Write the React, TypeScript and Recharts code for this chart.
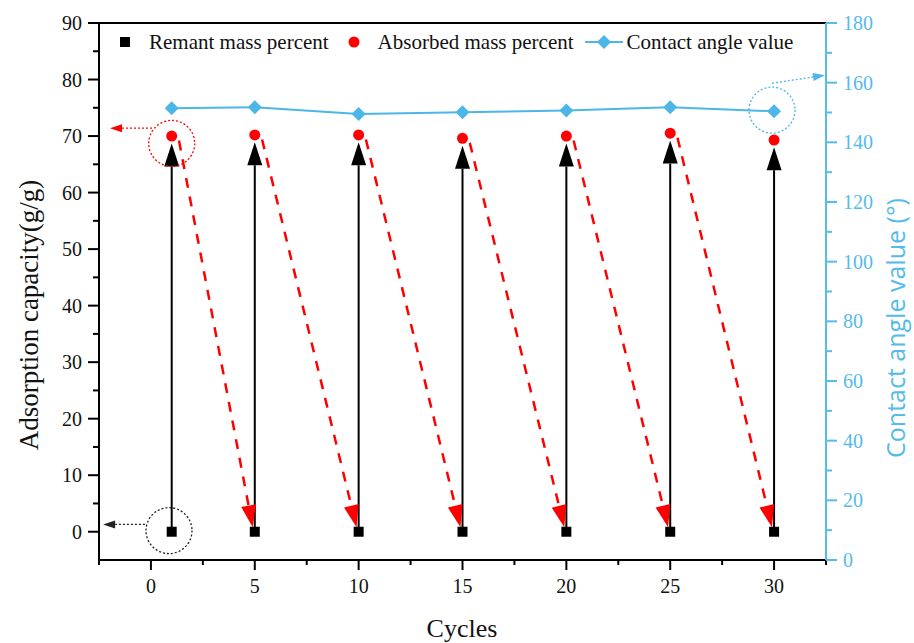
import React from "react";
import { ComposedChart, Line, Scatter, XAxis, YAxis, ReferenceLine, ReferenceDot, Legend } from "recharts";

const cycles = [1, 5, 10, 15, 20, 25, 30];
const remnantMass = [0, 0, 0, 0, 0, 0, 0];
const absorbedMass = [70.0, 70.2, 70.2, 69.6, 70.0, 70.5, 69.3];
const contactAngle = [151.4, 151.8, 149.5, 150.1, 150.7, 151.8, 150.4];

const xTicks = [-2.5, 0, 2.5, 5, 7.5, 10, 12.5, 15, 17.5, 20, 22.5, 25, 27.5, 30, 32.5];
const leftTicks = [0, 5, 10, 15, 20, 25, 30, 35, 40, 45, 50, 55, 60, 65, 70, 75, 80, 85, 90];
const rightTicks = [0, 10, 20, 30, 40, 50, 60, 70, 80, 90, 100, 110, 120, 130, 140, 150, 160, 170, 180];

const rows = cycles.map((c, i) => ({
  cycle: c,
  remnant: remnantMass[i],
  absorbed: absorbedMass[i],
  angle: contactAngle[i],
}));

const BLUE = "#4DB6E9";
const AXIS_BLUE = "#55BBEA";
const SERIF = "'Liberation Serif', 'Times New Roman', serif";

function arrowShape(color: string, width: number, headLen: number, headW: number, dash?: string) {
  return (p: any) => {
    const { x1, y1, x2, y2 } = p;
    const dx = x2 - x1;
    const dy = y2 - y1;
    const len = Math.hypot(dx, dy) || 1;
    const ux = dx / len;
    const uy = dy / len;
    const bx = x2 - ux * headLen;
    const by = y2 - uy * headLen;
    const px = (-uy * headW) / 2;
    const py = (ux * headW) / 2;
    return (
      <g>
        <line x1={x1} y1={y1} x2={bx} y2={by} stroke={color} strokeWidth={width} strokeDasharray={dash} />
        <polygon points={`${x2},${y2} ${bx + px},${by + py} ${bx - px},${by - py}`} fill={color} />
      </g>
    );
  };
}

const blackArrow = arrowShape("#000", 2, 23, 15);
const redArrow = arrowShape("#FF0000", 2.5, 22, 15, "10 9");
const redPointer = arrowShape("#FF0000", 1.3, 12, 8, "2 2");
const blackPointer = arrowShape("#222", 1.3, 12, 8, "2 2");
const bluePointer = arrowShape(BLUE, 1.3, 12, 8, "2 2");

const LeftTick = (p: any) => {
  const v = p.payload.value;
  const major = v % 10 === 0;
  return (
    <g>
      <line x1={p.x} x2={p.x - (major ? 11 : 6)} y1={p.y} y2={p.y} stroke="#000" strokeWidth={2} />
      {major && (
        <text x={p.x - 17} y={p.y} dy="0.35em" textAnchor="end" fontFamily={SERIF} fontSize={20} fill="#111">
          {v}
        </text>
      )}
    </g>
  );
};

const RightTick = (p: any) => {
  const v = p.payload.value;
  const major = v % 20 === 0;
  return (
    <g>
      <line x1={p.x} x2={p.x + (major ? 11 : 6)} y1={p.y} y2={p.y} stroke={AXIS_BLUE} strokeWidth={2} />
      {major && (
        <text x={p.x + 17} y={p.y} dy="0.35em" textAnchor="start" fontFamily={SERIF} fontSize={20} fill={AXIS_BLUE}>
          {v}
        </text>
      )}
    </g>
  );
};

const BottomTick = (p: any) => {
  const v = p.payload.value;
  const major = v % 5 === 0;
  return (
    <g>
      <line x1={p.x} x2={p.x} y1={p.y} y2={p.y + (major ? 10 : 5)} stroke="#000" strokeWidth={2} />
      {major && (
        <text x={p.x} y={p.y + 33} textAnchor="middle" fontFamily={SERIF} fontSize={20} fill="#111">
          {v}
        </text>
      )}
    </g>
  );
};

const Diamond = (p: any) => {
  const { cx, cy } = p;
  if (cx == null || cy == null) return <g key={p.index} />;
  const s = 7;
  return (
    <polygon
      key={p.index}
      points={`${cx},${cy - s} ${cx + s},${cy} ${cx},${cy + s} ${cx - s},${cy}`}
      fill={BLUE}
    />
  );
};

const LegendBox = () => (
  <div
    style={{
      display: "flex",
      alignItems: "center",
      fontFamily: SERIF,
      fontSize: 21,
      color: "#111",
      whiteSpace: "nowrap",
      lineHeight: "24px",
    }}
  >
    <svg width={24} height={24}>
      <rect x={7} y={7} width={10} height={10} fill="#000" />
    </svg>
    <span style={{ marginLeft: 12 }}>Remant mass percent</span>
    <svg width={24} height={24} style={{ marginLeft: 13 }}>
      <circle cx={12} cy={12} r={5.5} fill="#FF0000" />
    </svg>
    <span style={{ marginLeft: 12 }}>Absorbed mass percent</span>
    <svg width={40} height={24} style={{ marginLeft: 10 }}>
      <line x1={1} x2={39} y1={12} y2={12} stroke={BLUE} strokeWidth={2} />
      <polygon points="20,5 27,12 20,19 13,12" fill={BLUE} />
    </svg>
    <span style={{ marginLeft: 3 }}>Contact angle value</span>
  </div>
);

export default function App() {
  return (
    <div style={{ position: "absolute", left: 0, top: 0, width: 914, height: 643, background: "#fff" }}>
      <ComposedChart width={914} height={643} data={rows} margin={{ top: 23, right: 0, bottom: 0, left: 0 }}>
        <XAxis
          dataKey="cycle"
          type="number"
          domain={[-2.5, 32.5]}
          ticks={xTicks}
          interval={0}
          allowDataOverflow
          height={83}
          tickSize={0}
          tickMargin={0}
          tickLine={false}
          axisLine={{ stroke: "#000", strokeWidth: 2 }}
          tick={BottomTick}
          label={{
            content: () => (
              <text x={462} y={637} textAnchor="middle" fontFamily={SERIF} fontSize={26} fill="#111">
                Cycles
              </text>
            ),
          }}
        />
        <YAxis
          yAxisId="left"
          type="number"
          domain={[-5, 90]}
          ticks={leftTicks}
          interval={0}
          allowDataOverflow
          width={99}
          tickSize={0}
          tickMargin={0}
          tickLine={false}
          axisLine={{ stroke: "#000", strokeWidth: 2 }}
          tick={LeftTick}
          label={{
            content: () => (
              <text
                x={29}
                y={315}
                dy="0.35em"
                transform="rotate(-90 29 315)"
                textAnchor="middle"
                fontFamily={SERIF}
                fontSize={27}
                fill="#111"
              >
                Adsorption capacity(g/g)
              </text>
            ),
          }}
        />
        <YAxis
          yAxisId="right"
          orientation="right"
          type="number"
          domain={[0, 180]}
          ticks={rightTicks}
          interval={0}
          allowDataOverflow
          width={88}
          tickSize={0}
          tickMargin={0}
          tickLine={false}
          axisLine={{ stroke: AXIS_BLUE, strokeWidth: 2 }}
          tick={RightTick}
          label={{
            content: () => (
              <text
                x={896}
                y={328}
                dy="0.35em"
                transform="rotate(-90 896 328)"
                textAnchor="middle"
                fontFamily="'Open Sans', 'Noto Sans', sans-serif"
                fontSize={25}
                fill={AXIS_BLUE}
              >
                Contact angle value (°)
              </text>
            ),
          }}
        />

        <ReferenceLine yAxisId="left" y={90} stroke="#000" strokeWidth={2} ifOverflow="visible" />

        {cycles.map((c, i) => (
          <ReferenceLine
            key={`b${i}`}
            yAxisId="left"
            ifOverflow="visible"
            segment={[
              { x: c, y: remnantMass[i] },
              { x: c, y: absorbedMass[i] - 1.3 },
            ]}
            shape={blackArrow}
          />
        ))}
        {cycles.slice(0, -1).map((c, i) => (
          <ReferenceLine
            key={`r${i}`}
            yAxisId="left"
            ifOverflow="visible"
            segment={[
              { x: c + 0.35, y: absorbedMass[i] - 0.8 },
              { x: cycles[i + 1] - 0.1, y: remnantMass[i + 1] + 0.8 },
            ]}
            shape={redArrow}
          />
        ))}

        <ReferenceDot yAxisId="left" x={1} y={68.7} r={23} fill="none" stroke="#FF0000" strokeWidth={1.3} strokeDasharray="2 2" ifOverflow="visible" />
        <ReferenceDot yAxisId="left" x={0.87} y={0.2} r={23} fill="none" stroke="#222" strokeWidth={1.3} strokeDasharray="2 2" ifOverflow="visible" />
        <ReferenceDot yAxisId="right" x={29.9} y={150.8} r={23} fill="none" stroke={BLUE} strokeWidth={1.3} strokeDasharray="2 2" ifOverflow="visible" />

        <ReferenceLine yAxisId="left" ifOverflow="visible" segment={[{ x: 0.05, y: 71.4 }, { x: -1.97, y: 71.4 }]} shape={redPointer} />
        <ReferenceLine yAxisId="left" ifOverflow="visible" segment={[{ x: -0.29, y: 1.3 }, { x: -2.3, y: 1.3 }]} shape={blackPointer} />
        <ReferenceLine yAxisId="right" ifOverflow="visible" segment={[{ x: 29.9, y: 159.8 }, { x: 32.45, y: 162.5 }]} shape={bluePointer} />

        <Line
          yAxisId="right"
          dataKey="angle"
          name="Contact angle value"
          stroke={BLUE}
          strokeWidth={2}
          dot={Diamond}
          activeDot={false}
          isAnimationActive={false}
        />
        <Scatter
          yAxisId="left"
          data={rows}
          dataKey="remnant"
          name="Remant mass percent"
          fill="#000"
          isAnimationActive={false}
          shape={(p: any) => <rect x={p.cx - 5} y={p.cy - 5} width={10} height={10} fill="#000" />}
        />
        <Scatter
          yAxisId="left"
          data={rows}
          dataKey="absorbed"
          name="Absorbed mass percent"
          fill="#FF0000"
          isAnimationActive={false}
          shape={(p: any) => <circle cx={p.cx} cy={p.cy} r={5.5} fill="#FF0000" />}
        />

        <Legend
          layout="horizontal"
          verticalAlign="middle"
          align="center"
          wrapperStyle={{ top: 30, left: 113, width: 720 }}
          content={() => <LegendBox />}
        />
      </ComposedChart>
    </div>
  );
}
